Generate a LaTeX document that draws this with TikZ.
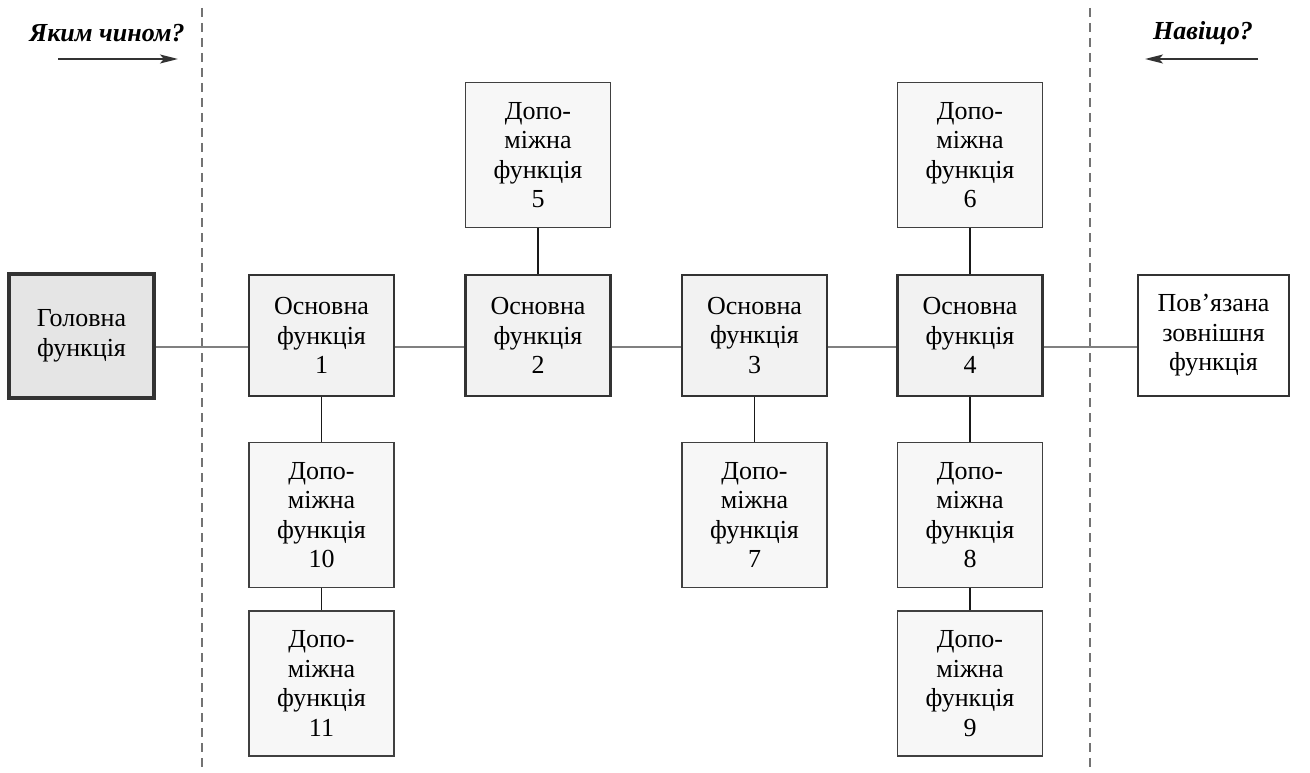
\documentclass[tikz,border=0pt]{standalone}
\usepackage{fontspec}
\setmainfont{Liberation Serif}
\usetikzlibrary{arrows.meta}
\begin{document}
\begin{tikzpicture}[x=1pt,y=-1pt]
		\tikzstyle{HeadFunc} = [rectangle, minimum width=145pt, minimum height=124pt, align=center, inner sep=0pt, draw=black!80, line width=3.5pt, fill=black!10, font=\fontsize{26}{29.5}\selectfont]
		\tikzstyle{MainFunc} = [rectangle, minimum width=145pt, minimum height=121pt, align=center, inner sep=0pt, draw=black!80, line width=2.5pt, fill=black!5, font=\fontsize{26}{29.5}\selectfont]
		\tikzstyle{AuxFunc} = [rectangle, minimum width=145pt, minimum height=145pt, align=center, inner sep=0pt, draw=black!75, line width=1.5pt, fill=black!3, font=\fontsize{26}{29.5}\selectfont]
		\tikzstyle{OuterFunc} = [rectangle, minimum width=151pt, minimum height=121pt, align=center, inner sep=0pt, draw=black!80, line width=2.5pt, fill=white, font=\fontsize{26}{29.5}\selectfont]
		\tikzstyle{Hint} = [font=\fontsize{26}{29.5}\selectfont\bfseries\itshape]
		\tikzstyle{hline} = [line width=2pt, black!50]
		\tikzstyle{vline} = [line width=1.8pt, black!90]
		\tikzstyle{border} = [line width=2pt, black!55, dash pattern=on 9pt off 6pt]
		\tikzstyle{arrow} = [line width=2pt, black!80, -{Stealth[length=18pt, width=9pt, inset=4pt]}]
		
		\useasboundingbox (0,0) rectangle (1310,773);
		\coordinate (axis) at (0,347);
		\coordinate (leftTop) at (202,8);
		\coordinate (leftBot) at (202,773);
		\coordinate (rightTop) at (1090,8);
		\coordinate (rightBot) at (1090,773);
		\draw [border] (leftTop) -- (leftBot);
		\draw [border] (rightTop) -- (rightBot);
		
		\node (how) [Hint] at (107,33) {Яким чином?};
		\node (why) [Hint] at (1203,33) {Навіщо?};
		\coordinate (howFrom) at (58,59);
		\coordinate (howTo) at (178,59);
		\coordinate (whyFrom) at (1258,59);
		\coordinate (whyTo) at (1145,59);
		\draw [arrow] (howFrom) -- (howTo);
		\draw [arrow] (whyFrom) -- (whyTo);
		
		\node (head) [HeadFunc] at (81.5,336) {Головна\\функція};
		\node (main1) [MainFunc] at (321.5,335.5) {Основна\\функція\\1};
		\node (main2) [MainFunc] at (538,335.5) {Основна\\функція\\2};
		\node (main3) [MainFunc] at (754.5,335.5) {Основна\\функція\\3};
		\node (main4) [MainFunc] at (970,335.5) {Основна\\функція\\4};
		\node (outer) [OuterFunc] at (1213.5,335.5) {Пов’язана\\зовнішня\\функція};
		
		\node (aux5) [AuxFunc] at (538,155) {Допо-\\міжна\\функція\\5};
		\node (aux6) [AuxFunc] at (970,155) {Допо-\\міжна\\функція\\6};
		\node (aux7) [AuxFunc] at (754.5,515) {Допо-\\міжна\\функція\\7};
		\node (aux8) [AuxFunc] at (970,515) {Допо-\\міжна\\функція\\8};
		\node (aux9) [AuxFunc] at (970,683.5) {Допо-\\міжна\\функція\\9};
		\node (aux10) [AuxFunc] at (321.5,515) {Допо-\\міжна\\функція\\10};
		\node (aux11) [AuxFunc] at (321.5,683.5) {Допо-\\міжна\\функція\\11};
		
		\draw [hline] (head.east |- axis) -- (main1.west |- axis);
		\draw [hline] (main1.east |- axis) -- (main2.west |- axis);
		\draw [hline] (main2.east |- axis) -- (main3.west |- axis);
		\draw [hline] (main3.east |- axis) -- (main4.west |- axis);
		\draw [hline] (main4.east |- axis) -- (outer.west |- axis);
		\draw [vline] (aux5) -- (main2);
		\draw [vline] (aux6) -- (main4);
		\draw [vline] (main1) -- (aux10);
		\draw [vline] (aux10) -- (aux11);
		\draw [vline] (main3) -- (aux7);
		\draw [vline] (main4) -- (aux8);
		\draw [vline] (aux8) -- (aux9);
\end{tikzpicture}
\end{document}
